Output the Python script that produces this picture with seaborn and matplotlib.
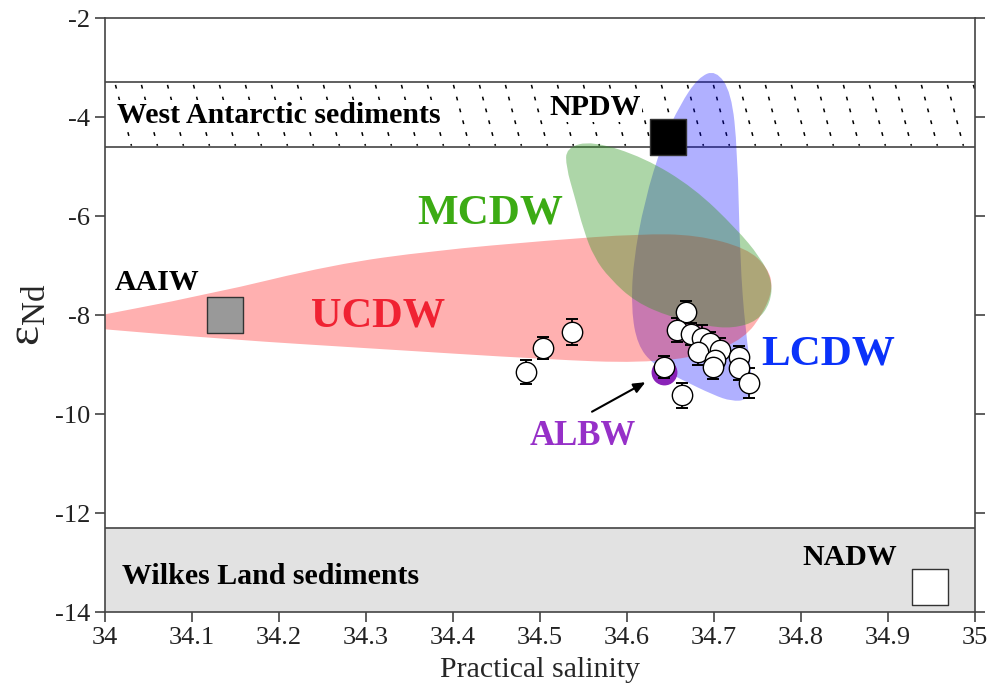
import numpy as np
import pandas as pd
import seaborn as sns
import matplotlib.pyplot as plt
from matplotlib.path import Path
from matplotlib.patches import PathPatch

# sample data (salinity, eps Nd, 2sd)
salinity = [34.484, 34.503, 34.537, 34.668, 34.657, 34.674, 34.686, 34.695, 34.707,
            34.682, 34.701, 34.699, 34.729, 34.729, 34.740, 34.643, 34.663]
eps_nd = [-9.15, -8.67, -8.34, -7.94, -8.30, -8.38, -8.46, -8.57, -8.71,
          -8.75, -8.91, -9.05, -8.85, -9.07, -9.37, -9.05, -9.62]
eps_err = [0.25, 0.22, 0.27, 0.22, 0.25, 0.22, 0.25, 0.22, 0.25,
           0.25, 0.25, 0.25, 0.22, 0.25, 0.30, 0.22, 0.25]

# water mass end members
endmember_names = ["NPDW", "AAIW", "NADW"]
endmember_sal = [34.647, 34.138, 34.948]
endmember_eps = [-4.40, -8.00, -13.49]
endmember_col = ["black", "#999999", "white"]
albw_sal, albw_eps = 34.643, -9.15

# sediment bands
west_antarctic = (-3.3, -4.6)
wilkes_land = (-12.3, -14.0)

# water mass fields (control outlines)
ucdw_x = [33.95, 34.121, 34.262, 34.377, 34.511, 34.615, 34.680, 34.738, 34.762, 34.768,
          34.757, 34.735, 34.690, 34.615, 34.511, 34.301, 34.147, 33.95]
ucdw_y = [-8.15, -7.58, -6.98, -6.70, -6.49, -6.36, -6.38, -6.65, -7.05, -7.45,
          -7.95, -8.47, -8.82, -8.97, -8.90, -8.67, -8.50, -8.22]
mcdw_x = [34.530, 34.560, 34.620, 34.677, 34.726, 34.753, 34.767, 34.765, 34.750, 34.722,
          34.690, 34.650, 34.610, 34.580, 34.562, 34.550, 34.540, 34.530]
mcdw_y = [-4.62, -4.48, -4.82, -5.43, -6.26, -6.83, -7.30, -7.75, -8.12, -8.27,
          -8.22, -8.04, -7.74, -7.26, -6.83, -6.28, -5.62, -5.01]
lcdw_x = [34.702, 34.720, 34.727, 34.730, 34.736, 34.745, 34.738, 34.720, 34.700, 34.662,
          34.630, 34.612, 34.605, 34.607, 34.620, 34.641, 34.661, 34.682]
lcdw_y = [-3.05, -3.50, -4.67, -6.89, -8.30, -9.40, -9.72, -9.74, -9.62, -9.30,
          -9.00, -8.60, -7.90, -6.95, -5.70, -4.50, -3.75, -3.20]


def smooth_patch(xs, ys, **kw):
    # closed quadratic B-spline through the control outline
    p = np.column_stack([xs, ys])
    m = (p + np.roll(p, -1, axis=0)) / 2
    verts = [m[-1]]
    codes = [Path.MOVETO]
    for i in range(len(p)):
        verts += [p[i], m[i]]
        codes += [Path.CURVE3, Path.CURVE3]
    return PathPatch(Path(verts, codes), **kw)


sns.set_style("ticks")
plt.rcParams['font.family'] = ['Liberation Serif', 'DejaVu Serif']
plt.rcParams['mathtext.fontset'] = 'stix'
plt.rcParams['text.color'] = 'black'

fig = plt.figure(figsize=(9.89, 6.95), dpi=100)
ax = fig.add_axes([0.1062, 0.1194, 0.8796, 0.8546])
ax.set_xlim(34, 35)
ax.set_ylim(-14, -2)

# sediment bands
ax.axhspan(wilkes_land[1], wilkes_land[0], color="#e2e2e2", zorder=0)
for yy in [west_antarctic[0], west_antarctic[1], wilkes_land[0]]:
    ax.axhline(yy, color="#444444", lw=1.2, zorder=1)
dx = 16 / 870
for x0 in np.arange(34.012, 35.0, 26 / 870):
    ax.plot([x0, x0 + dx], [west_antarctic[0] - 0.05, west_antarctic[1] + 0.02],
            color="black", lw=1.1, dashes=(2.5, 5.5), zorder=1)

# water mass fields
ax.add_patch(smooth_patch(lcdw_x, lcdw_y, facecolor=(0, 0, 1), alpha=0.31, lw=0, zorder=2))
ax.add_patch(smooth_patch(ucdw_x, ucdw_y, facecolor=(1, 0, 0), alpha=0.31, lw=0, zorder=2))
ax.add_patch(smooth_patch(mcdw_x, mcdw_y, facecolor=(0.2, 0.6, 0.15), alpha=0.4, lw=0, zorder=2))

# ALBW
ax.scatter([albw_sal], [albw_eps], s=310, color="#8a22b8", zorder=3)

# samples
ax.errorbar(salinity, eps_nd, yerr=eps_err, fmt="none", ecolor="black",
            elinewidth=1.3, capsize=4, capthick=1.4, zorder=4)
df = pd.DataFrame({"sal": salinity, "eps": eps_nd})
sns.scatterplot(data=df, x="sal", y="eps", s=215, color="white",
                edgecolor="black", linewidth=1.0, ax=ax, zorder=5)

# end members
for n, xs, ys, c in zip(endmember_names, endmember_sal, endmember_eps, endmember_col):
    ax.scatter([xs], [ys], marker="s", s=680, color=c, edgecolor="#333333",
               linewidth=1.0, zorder=6, clip_on=False)

bold = dict(fontweight="bold", zorder=7)
ax.text(34.014, -3.96, "West Antarctic sediments", fontsize=21.5, va="center",
        bbox=dict(facecolor="white", edgecolor="none", pad=1), **bold)
ax.text(34.563, -3.80, "NPDW", fontsize=21.5, ha="center", va="center",
        bbox=dict(facecolor="white", edgecolor="none", pad=1), **bold)
ax.text(34.06, -7.35, "AAIW", fontsize=21.5, ha="center", va="center", **bold)
ax.text(34.856, -12.89, "NADW", fontsize=21.5, ha="center", va="center", **bold)
ax.text(34.02, -13.29, "Wilkes Land sediments", fontsize=21.5, va="center", **bold)
ax.text(34.4425, -5.94, "MCDW", fontsize=31, color="#3cab14", ha="center", va="center", **bold)
ax.text(34.314, -8.02, "UCDW", fontsize=30.5, color="#f02232", ha="center", va="center", **bold)
ax.text(34.831, -8.79, "LCDW", fontsize=31, color="#0a32fa", ha="center", va="center", **bold)
ax.text(34.549, -10.46, "ALBW", fontsize=25, color="#9630c8", ha="center", va="center", **bold)

ax.annotate("", xy=(34.624, -9.33), xytext=(34.557, -9.98),
            arrowprops=dict(arrowstyle="-|>,head_length=0.7,head_width=0.3",
                            color="black", lw=1.5), zorder=7)

ax.set_xticks(np.arange(34, 35.01, 0.1))
ax.set_xticklabels(["34", "34.1", "34.2", "34.3", "34.4", "34.5", "34.6", "34.7",
                    "34.8", "34.9", "35"])
ax.set_yticks(np.arange(-14, -1.9, 2))
ax.set_yticklabels(["-14", "-12", "-10", "-8", "-6", "-4", "-2"])
ax.tick_params(direction="out", length=7, width=1.1, labelsize=19, top=False, right=True,
               colors="#333333", labelcolor="#222222")
for s in ax.spines.values():
    s.set_visible(True)
    s.set_color("#444444")
    s.set_linewidth(1.2)

ax.set_xlabel("Practical salinity", fontsize=21.5, labelpad=6)
ax.set_ylabel("ε$_\\mathregular{Nd}$", fontsize=34, labelpad=4)

fig.savefig("out.png", dpi=100)
